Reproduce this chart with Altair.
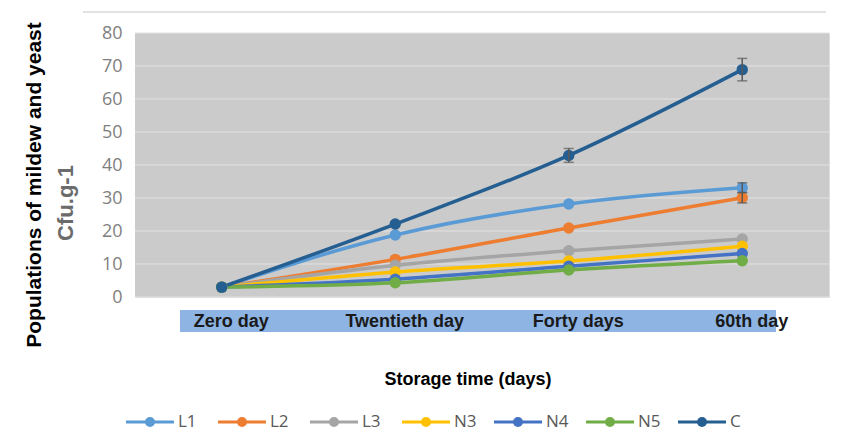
import altair as alt
import pandas as pd

days = ["Zero day", "Twentieth day", "Forty days", "60th day"]
series = ["L1", "L2", "L3", "N3", "N4", "N5", "C"]
colors = ["#5B9BD5", "#ED7D31", "#A5A5A5", "#FFC000", "#4472C4", "#70AD47", "#255E91"]
y_ticks = [0, 10, 20, 30, 40, 50, 60, 70, 80]

L1 = [3.0, 18.8, 28.2, 33.1]
L2 = [3.0, 11.4, 20.9, 30.1]
L3 = [3.0, 9.6, 14.0, 17.6]
N3 = [3.0, 7.6, 10.9, 15.4]
N4 = [3.0, 5.4, 9.3, 13.2]
N5 = [3.0, 4.3, 8.2, 11.0]
C = [3.0, 22.1, 42.9, 68.9]

L1_err = [0.0, 0.0, 0.0, 1.5]
L2_err = [0.0, 0.0, 0.0, 1.6]
L3_err = [0.0, 0.0, 0.0, 0.0]
N3_err = [0.0, 0.0, 0.0, 0.0]
N4_err = [0.0, 0.0, 0.0, 0.0]
N5_err = [0.0, 0.0, 0.0, 0.0]
C_err = [0.0, 0.0, 2.1, 3.4]

values = {"L1": L1, "L2": L2, "L3": L3, "N3": N3, "N4": N4, "N5": N5, "C": C}
errors = {"L1": L1_err, "L2": L2_err, "L3": L3_err, "N3": N3_err, "N4": N4_err, "N5": N5_err, "C": C_err}

rows = []
for s in series:
    for d, v, e in zip(days, values[s], errors[s]):
        rows.append({"series": s, "day": d, "value": v, "err": e, "lo": v - e, "hi": v + e})
df = pd.DataFrame(rows)
df_err = df[df["err"] > 0]
grid_df = pd.DataFrame({"value": y_ticks})
legend_df = pd.DataFrame({"series": series})

one = pd.DataFrame({"k": [0]})

y_scale = alt.Scale(domain=[0, 80], nice=False)
y_axis = alt.Axis(values=y_ticks, labelFont="Open Sans", labelFontSize=18,
                  labelColor="#7f7f7f", domain=False, ticks=False, tickSize=0, labelOverlap=False,
                  grid=False, labelPadding=13)

x_enc = alt.X("day:N", sort=days, title=None,
              scale=alt.Scale(type="point", padding=0.5),
              axis=alt.Axis(labelFont="Liberation Sans", labelFontWeight="bold", labelFontSize=18,
                            labelColor="#1a1a1a", domain=False, ticks=False, tickSize=0, grid=False,
                            labelPadding=24, labelBaseline="middle", labelOffset=9, labelAngle=0,
                            zindex=1))
y_enc = alt.Y("value:Q", title=None, scale=y_scale, axis=y_axis)

color_scale = alt.Scale(domain=series, range=colors)

bg = alt.Chart(one).mark_rect(color="#cbcbcb").encode(
    x=alt.value(0), x2=alt.value(694), y=alt.value(0), y2=alt.value(264))
grid = alt.Chart(grid_df).mark_rule(color="#e2e2e2", strokeWidth=1).encode(
    y=y_enc, x=alt.value(0), x2=alt.value(694))
band = alt.Chart(one).mark_rect(color="#8DB4E2").encode(
    x=alt.value(45), x2=alt.value(641), y=alt.value(277), y2=alt.value(299))
topline = alt.Chart(one).mark_rule(color="#d9d9d9", strokeWidth=1.5).encode(
    x=alt.value(-52), x2=alt.value(691), y=alt.value(-21))

lines = alt.Chart(df).mark_line(strokeWidth=3.5, interpolate="monotone").encode(
    x=x_enc, y=y_enc, stroke=alt.Stroke("series:N", scale=color_scale, legend=None))

points = alt.Chart(df).mark_circle(size=130, opacity=1).encode(
    x=x_enc, y=y_enc, color=alt.Color("series:N", scale=color_scale, legend=None))

errs = alt.Chart(df_err).mark_errorbar(ticks=True, size=10, thickness=1.5, color="#595959").encode(
    x=x_enc, y=alt.Y("lo:Q", title=None, scale=y_scale, axis=y_axis), y2="hi:Q")

ytitle1 = alt.Chart(one).mark_text(text="Populations of mildew and yeast", angle=270,
                                   font="Liberation Sans", fontWeight="bold", fontSize=21,
                                   color="#000000", align="center", baseline="middle").encode(
    x=alt.value(-100), y=alt.value(152))
ytitle2 = alt.Chart(one).mark_text(text="Cfu.g-1", angle=270,
                                   font="Liberation Sans", fontWeight="bold", fontSize=22,
                                   color="#6b6b6b", align="center", baseline="middle").encode(
    x=alt.value(-69), y=alt.value(170))
xtitle = alt.Chart(one).mark_text(text="Storage time (days)",
                                  font="Liberation Sans", fontWeight="bold", fontSize=18,
                                  color="#000000", align="center", baseline="middle").encode(
    x=alt.value(333), y=alt.value(347))

main = alt.layer(bg, grid, band, topline, lines, points, errs, ytitle1, ytitle2, xtitle)

# manual legend (line + dot + label), positioned through its own point scale
leg_x = alt.X("series:N", sort=series, title=None, axis=None,
              scale=alt.Scale(type="point", domain=series, range=[15, 567], padding=0))
leg_color = alt.Color("series:N", scale=color_scale, legend=None)
leg_line = alt.Chart(legend_df).mark_point(shape="M-1,0L1,0", size=2304, strokeWidth=3,
                                           filled=False, opacity=1).encode(
    x=leg_x, y=alt.value(389), color=leg_color)
leg_dot = alt.Chart(legend_df).mark_circle(size=100, opacity=1).encode(
    x=leg_x, y=alt.value(389), color=leg_color)
leg_text = alt.Chart(legend_df).mark_text(align="left", baseline="middle", dx=28,
                                          font="Open Sans", fontSize=17, color="#595959").encode(
    x=leg_x, y=alt.value(389), text="series:N")
legend = alt.layer(leg_line, leg_dot, leg_text)

chart = alt.layer(main, legend).resolve_scale(x="independent").properties(
    width=694, height=264,
    autosize=alt.AutoSizeParams(type="none"),
    padding={"left": 127, "top": 25, "right": 5, "bottom": 137},
).configure_view(
    stroke="#d4d4d4", strokeWidth=1,
).configure(background="white")

chart.save("out.html", embed_options={"renderer": "svg", "actions": False})
